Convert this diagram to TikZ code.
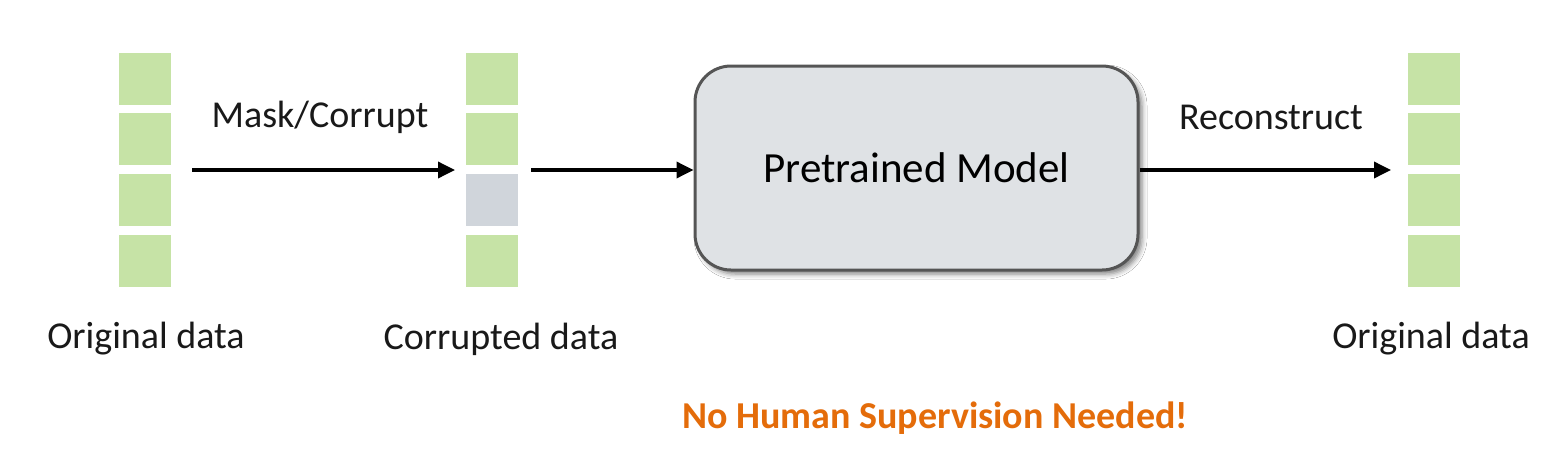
\documentclass[tikz,border=0pt]{standalone}
\usepackage{fontspec}
\setmainfont{Carlito}
\usetikzlibrary{arrows.meta,shadows.blur}
\definecolor{cellgreen}{HTML}{C6E3A6}
\definecolor{cellgray}{HTML}{D0D5DB}
\definecolor{boxfill}{HTML}{DFE2E5}
\definecolor{boxline}{HTML}{555555}
\definecolor{accentorange}{HTML}{E46C0A}
\tikzset{
  cell/.style={minimum width=52pt,minimum height=52pt,inner sep=0pt,draw=none,fill=cellgreen},
  maskcell/.style={cell,fill=cellgray},
  lbl/.style={font=\fontsize{38}{45}\selectfont,text=black!90,inner sep=0pt},
  flow/.style={line width=3.5pt,-{Triangle[length=17pt,width=16pt]}},
  model/.style={draw=boxline,line width=3pt,fill=boxfill,rounded corners=36pt,
    minimum width=443pt,minimum height=204pt,inner sep=0pt,
    blur shadow={shadow xshift=4pt,shadow yshift=-4pt,shadow blur radius=5pt,shadow opacity=50},
    font=\fontsize{43}{50}\selectfont}
}
\begin{document}
\begin{tikzpicture}[x=1pt,y=-1pt]
\useasboundingbox[fill=white] (0,0) rectangle (1568,458);
% left column
\node[cell] (a1) at (145,79) {};
\node[cell] (a2) at (145,139) {};
\node[cell] (a3) at (145,200) {};
\node[cell] (a4) at (145,261) {};
% middle column
\node[cell] (b1) at (492,79) {};
\node[cell] (b2) at (492,139) {};
\node[maskcell] (b3) at (492,200) {};
\node[cell] (b4) at (492,261) {};
% right column
\node[cell] (c1) at (1434,79) {};
\node[cell] (c2) at (1434,139) {};
\node[cell] (c3) at (1434,200) {};
\node[cell] (c4) at (1434,261) {};
% model
\node[model] (m) at (916.5,168) {Pretrained Model};
% arrow anchor points
\coordinate (s1) at (192,170);
\coordinate (t1) at (455,170);
\coordinate (s2) at (531,170);
\coordinate (s3) at (1138,170);
\coordinate (t3) at (1391,170);
\draw[flow] (s1) -- (t1);
\draw[flow] (s2) -- (m.west |- s2);
\draw[flow] (m.east |- s3) -- (t3);
% labels
\node[lbl] (l1) at (320,117) {Mask/Corrupt};
\node[lbl] (l2) at (1271,117) {Reconstruct};
\node[lbl] (o1) at (146,339) {Original data};
\node[lbl] (o2) at (501,339) {Corrupted data};
\node[lbl] (o3) at (1431,339) {Original data};
\node[lbl,font=\fontsize{38}{45}\selectfont\bfseries,text=accentorange] (n) at (935,418) {No Human Supervision Needed!};
\end{tikzpicture}
\end{document}
